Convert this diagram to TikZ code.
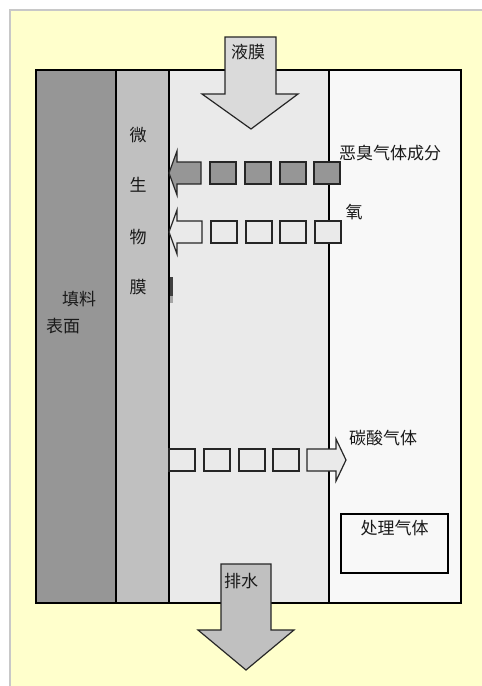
\documentclass[tikz,border=0pt]{standalone}
\usepackage{fontspec}
\newfontfamily\cjk{Noto Sans CJK SC}
\definecolor{bgyellow}{HTML}{FFFFCC}
\definecolor{colA}{HTML}{969696}
\definecolor{colB}{HTML}{C0C0C0}
\definecolor{colC}{HTML}{EAEAEA}
\definecolor{colD}{HTML}{F8F8F8}
\definecolor{arrtop}{HTML}{DADADA}
\definecolor{txt}{HTML}{1A1A1A}
\definecolor{edgegray}{HTML}{C8C8C8}
\tikzset{
  colbox/.style={draw=black,line width=1.5pt},
  arr/.style={draw=black!85,line width=1.2pt,line join=miter},
  lbl/.style={inner sep=0pt,font=\cjk\fontsize{17}{19}\selectfont,text=txt},
}
\begin{document}
\begin{tikzpicture}[x=1pt,y=-1pt]
\useasboundingbox (0,0) rectangle (482,686);
\fill[white] (0,0) rectangle (482,686);
\fill[edgegray] (9,9) rectangle (482,686);
\fill[bgyellow] (11,11) rectangle (482,686);
% columns
\draw[colbox,fill=colA] (36,70) rectangle (116,603);
\draw[colbox,fill=colB] (116,70) rectangle (169,603);
\draw[colbox,fill=colC] (169,70) rectangle (329,603);
\draw[colbox,fill=colD] (329,70) rectangle (461,603);
% top arrow (liquid film)
\draw[arr,fill=arrtop] (225,37) -- (276,37) -- (276,94) -- (298,94) -- (251,129) -- (202,94) -- (225,94) -- cycle;
\node[lbl] (yemo) at (248,52) {液膜};
% bottom arrow (drain)
\draw[arr,fill=colB] (221,564) -- (271,564) -- (271,630) -- (294,630) -- (246,670) -- (198,630) -- (221,630) -- cycle;
\node[lbl] (paishui) at (241,581) {排水};
% row 1: odorous gas
\draw[arr,fill=colA] (169,173) -- (177,151) -- (177,162) -- (201,162) -- (201,184) -- (177,184) -- (177,195) -- cycle;
\foreach \x in {210,245,280,314}
  \draw[arr,fill=colA] (\x,162) rectangle ++(26,22);
\node[lbl,anchor=west] (echou) at (339,153) {恶臭气体成分};
% row 2: oxygen
\draw[arr,fill=colC] (169,232) -- (177,210) -- (177,221) -- (202,221) -- (202,243) -- (177,243) -- (177,254) -- cycle;
\foreach \x in {211,246,280,315}
  \draw[arr,fill=colC] (\x,221) rectangle ++(26,22);
\node[lbl] (yang) at (354,212) {氧};
% small mark
\fill[black!75] (170,277) rectangle (173,296);
\fill[black!35] (170,296) rectangle (173,303);
% row 3: carbonic acid gas
\draw[arr,fill=colC] (169,449) rectangle (195,471);
\foreach \x in {204,239,273}
  \draw[arr,fill=colC] (\x,449) rectangle ++(26,22);
\draw[arr,fill=colC] (307,449) -- (336,449) -- (336,439) -- (346,460) -- (336,481) -- (336,471) -- (307,471) -- cycle;
\node[lbl,anchor=west] (tansuan) at (349,438) {碳酸气体};
% treated gas box
\draw[line width=1.3pt,fill=colD] (341,514) rectangle (448,573);
\node[lbl] (chuli) at (394.5,528) {处理气体};
% biofilm labels
\node[lbl] (wei) at (138,135) {微};
\node[lbl] (sheng) at (138,185) {生};
\node[lbl] (wu) at (138,237) {物};
\node[lbl] (mo) at (138,287) {膜};
% packing surface
\node[lbl] (tianliao) at (79,299) {填料};
\node[lbl] (biaomian) at (63,326) {表面};
\end{tikzpicture}
\end{document}
